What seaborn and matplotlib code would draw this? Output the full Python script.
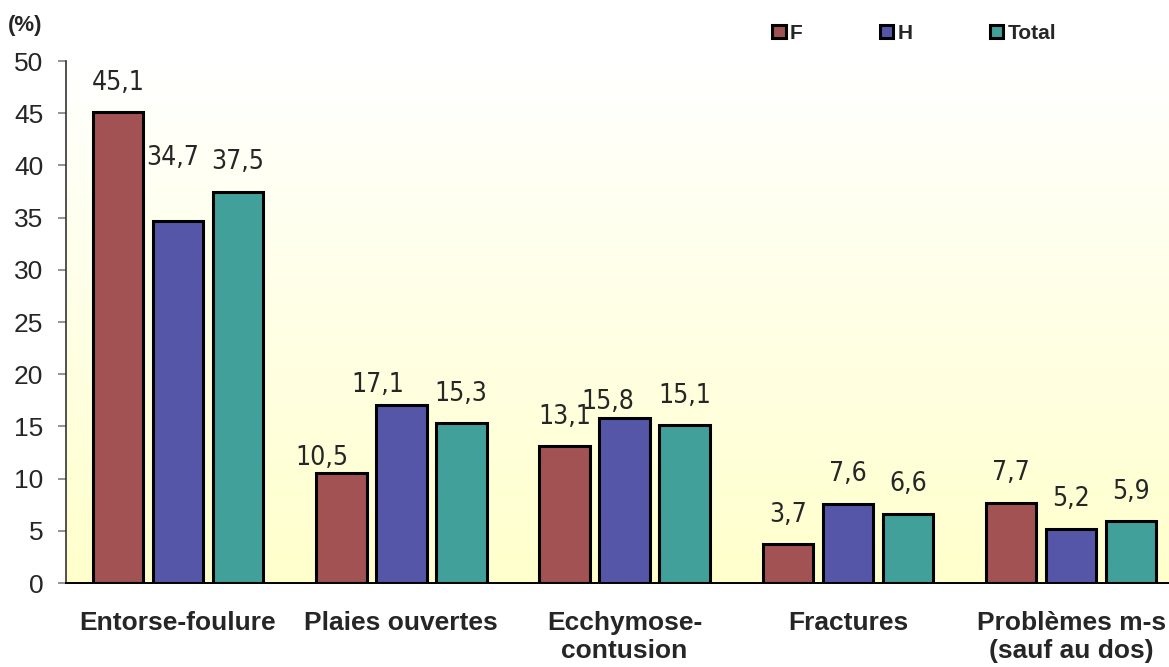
import numpy as np
import pandas as pd
import matplotlib
matplotlib.use("Agg")
import matplotlib.pyplot as plt
import seaborn as sns
from matplotlib import font_manager
from matplotlib.colors import LinearSegmentedColormap

categories = ["Entorse-foulure", "Plaies ouvertes", "Ecchymose-\ncontusion",
              "Fractures", "Problèmes m-s\n(sauf au dos)"]
series = ["F", "H", "Total"]
values_F = [45.1, 10.5, 13.1, 3.7, 7.7]
values_H = [34.7, 17.1, 15.8, 7.6, 5.2]
values_T = [37.5, 15.3, 15.1, 6.6, 5.9]
yticks = [0, 5, 10, 15, 20, 25, 30, 35, 40, 45, 50]

colors = ["#A25252", "#5656A8", "#42A09A"]

df = pd.DataFrame({
    "cat": categories * 3,
    "serie": [s for s in series for _ in categories],
    "val": values_F + values_H + values_T,
})

sns.set_style("white")
plt.rcParams["font.family"] = ["Liberation Sans", "DejaVu Sans"]
names = {f.name for f in font_manager.fontManager.ttflist}
narrow = "Liberation Sans Narrow" if "Liberation Sans Narrow" in names else "DejaVu Sans"
narrow_stretch = "normal" if narrow != "DejaVu Sans" else "condensed"

fig = plt.figure(figsize=(11.69, 6.67), dpi=100)
ax = fig.add_axes([0.0568, 0.1259, 0.955, 0.7826])

# background gradient
grad = np.linspace(0, 1, 256).reshape(-1, 1)
cmap = LinearSegmentedColormap.from_list("bg", ["#FFFFCC", "#FFFFFF"])
ax.imshow(grad, aspect="auto", cmap=cmap, origin="lower",
          extent=[-0.5, 4.5, 0, 50], zorder=0)

sns.barplot(data=df, x="cat", y="val", hue="serie", order=categories,
            hue_order=series, palette=colors, width=0.806, gap=0.16,
            edgecolor="black", linewidth=2.2, saturation=1, ax=ax, zorder=2,
            legend=True)

ax.set_xlim(-0.5, 4.5)
ax.set_ylim(0, 50)
ax.set_yticks(yticks)
ax.set_yticklabels([str(t) for t in yticks], fontsize=19)
ax.set_xlabel("")
ax.set_ylabel("")
ax.set_xticks(range(len(categories)))
ax.set_xticklabels(categories, fontsize=19, fontweight="bold", linespacing=1.2)
ax.tick_params(axis="x", which="major", length=0, pad=20)
ax.set_xticks(np.arange(-0.5, 5.0, 1.0), minor=True)
ax.tick_params(axis="x", which="minor", length=7, color="#808080", width=1.2)
ax.tick_params(axis="y", length=5.5, color="#808080", width=1.2, pad=11, left=True)
for s in ["top", "right"]:
    ax.spines[s].set_visible(False)
ax.spines["left"].set_color("#333333")
ax.spines["bottom"].set_color("black")
ax.spines["left"].set_linewidth(1.2)
ax.spines["bottom"].set_linewidth(1.4)

# value labels (offsets in points: dx, dy)
offsets = {
    (0, 1): (-4, 36), (1, 0): (-14, 2), (1, 1): (-17, 5), (2, 1): (-12, 2),
}
vals = [values_F, values_H, values_T]
for j, cont in enumerate(ax.containers[:3]):
    for i, bar in enumerate(cont):
        dx, dy = offsets.get((i, j), (0, 12))
        x = bar.get_x() + bar.get_width() / 2
        ax.annotate(f"{vals[j][i]:.1f}".replace(".", ","), (x, bar.get_height()),
                    xytext=(dx, dy), textcoords="offset points", ha="center",
                    va="bottom", fontsize=19, family=narrow,
                    fontstretch=narrow_stretch, zorder=5)

# legend
leg = ax.get_legend()
handles, labels = ax.get_legend_handles_labels()
leg.remove()
fig.legend(handles[:3], labels[:3], loc="center", bbox_to_anchor=(0.782, 0.950),
           ncol=3, frameon=False, handlelength=0.65, handleheight=0.65,
           handletextpad=0.2, columnspacing=3.7,
           prop={"weight": "bold", "size": 15})

fig.text(0.007, 0.962, "(%)", fontsize=16, fontweight="bold", va="center")

fig.savefig("out.png", dpi=100)
